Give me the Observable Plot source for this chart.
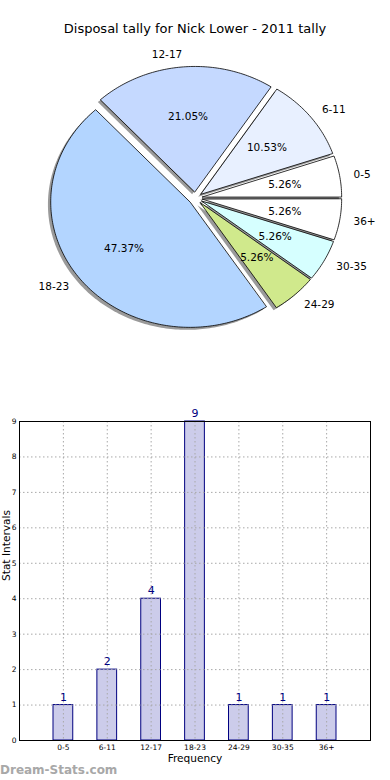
<!DOCTYPE html>
<html>
<head>
<meta charset="utf-8">
<script src="https://cdn.jsdelivr.net/npm/d3@7"></script>
<script src="https://cdn.jsdelivr.net/npm/@observablehq/plot@0.6"></script>
<style>
  html, body { margin: 0; padding: 0; background: #fff; }
  #wrap { position: relative; width: 390px; height: 780px; overflow: hidden; font-family: "DejaVu Sans", sans-serif; }
  #pie, #bar { position: absolute; left: 0; }
  #pie { top: 0; }
  #bar { top: 390px; }
  #title { position: absolute; top: 21px; left: 0; width: 390px; text-align: center; font-size: 13px; color: #000; }
  #mark { position: absolute; left: 0; top: 763px; font-size: 12px; font-weight: bold; color: #a8a8a8; font-family: "DejaVu Sans", sans-serif; }
  svg { overflow: visible; }
</style>
</head>
<body>
<div id="wrap">
  <div id="pie"></div>
  <div id="bar"></div>
  <div id="title">Disposal tally for Nick Lower - 2011 tally</div>
  <div id="mark">Dream-Stats.com</div>
</div>
<script>
const title = "Disposal tally for Nick Lower - 2011 tally";
const categories = ["0-5", "6-11", "12-17", "18-23", "24-29", "30-35", "36+"];
const counts = [1, 2, 4, 9, 1, 1, 1];
const sliceColors = ["#ffffff", "#e8f0ff", "#c5d9ff", "#b3d5ff", "#d0e98c", "#d6ffff", "#ffffff"];
const yTicks = [0, 1, 2, 3, 4, 5, 6, 7, 8, 9];
const xLabel = "Frequency";
const yLabel = "Stat Intervals";

const explode = 0.05;
const total = d3.sum(counts);
const ends = Array.from(d3.cumsum(counts));

// build wedge polygons in data units (radius 1), angles CCW from +x
const slices = categories.map((c, i) => {
  const a0 = (i === 0 ? 0 : ends[i - 1]) / total * 2 * Math.PI;
  const a1 = ends[i] / total * 2 * Math.PI;
  const am = (a0 + a1) / 2;
  const ox = explode * Math.cos(am), oy = explode * Math.sin(am);
  const n = Math.max(4, Math.ceil((a1 - a0) / (Math.PI / 180)));
  const pts = [{x: ox, y: oy}];
  for (let k = 0; k <= n; k++) {
    const a = a0 + (a1 - a0) * k / n;
    pts.push({x: ox + Math.cos(a), y: oy + Math.sin(a)});
  }
  return {cat: c, i, am, ox, oy, pts, color: sliceColors[i],
          pct: (counts[i] / total * 100).toFixed(2) + "%"};
});

const shadowMarks = slices.map(s =>
  Plot.line(s.pts, {x: d => d.x - 0.02, y: d => d.y - 0.02, curve: "linear-closed",
                    fill: "#9a9a9a", stroke: "none"}));
const wedgeMarks = slices.map(s =>
  Plot.line(s.pts, {x: "x", y: "y", curve: "linear-closed",
                    fill: s.color, stroke: "#000", strokeWidth: 0.8}));

const pie = Plot.plot({
  width: 390, height: 390, margin: 0,
  style: {fontFamily: "DejaVu Sans, sans-serif", background: "transparent"},
  x: {domain: [-1.4, 1.4], axis: null},
  y: {domain: [-1.5343, 1.5758], axis: null},
  marks: [
    ...shadowMarks,
    ...wedgeMarks,
    Plot.text(slices.filter(s => Math.cos(s.am) >= 0), {
      x: s => s.ox + 1.1 * Math.cos(s.am), y: s => s.oy + 1.1 * Math.sin(s.am),
      text: "cat", textAnchor: "start", fontSize: 10.5, fill: "#000"}),
    Plot.text(slices.filter(s => Math.cos(s.am) < 0), {
      x: s => s.ox + 1.1 * Math.cos(s.am), y: s => s.oy + 1.1 * Math.sin(s.am),
      text: "cat", textAnchor: "end", fontSize: 10.5, fill: "#000"}),
    Plot.text(slices, {
      x: s => s.ox + 0.6 * Math.cos(s.am), y: s => s.oy + 0.6 * Math.sin(s.am),
      text: "pct", fontSize: 10.5, fill: "#000"})
  ]
});
document.getElementById("pie").appendChild(pie);

const barData = categories.map((c, i) => ({cat: c, i, value: counts[i]}));
const xIdx = categories.map((c, i) => i);

const bar = Plot.plot({
  width: 390, height: 390,
  marginLeft: 19, marginRight: 20, marginTop: 31, marginBottom: 40,
  style: {fontFamily: "DejaVu Sans, sans-serif", background: "transparent"},
  x: {domain: [-1, 7], axis: null},
  y: {domain: [0, 9], axis: null},
  marks: [
    Plot.rect(barData, {x1: d => d.i - 0.225, x2: d => d.i + 0.225, y1: 0, y2: "value",
                        fill: "#ccccea", stroke: "#000080", strokeWidth: 1}),
    Plot.gridX(xIdx, {stroke: "#a8a8a8", strokeOpacity: 1, strokeDasharray: "1.5,2.5"}),
    Plot.gridY(yTicks, {stroke: "#a8a8a8", strokeOpacity: 1, strokeDasharray: "1.5,2.5"}),
    Plot.frame({stroke: "#000", strokeWidth: 1}),
    Plot.axisX(xIdx, {anchor: "bottom", tickSize: 0, tickPadding: 4, fontSize: 7.5,
                      tickFormat: i => categories[i], label: null, fill: "#000"}),
    Plot.axisY(yTicks, {anchor: "left", tickSize: 0, tickPadding: 3, fontSize: 7.5,
                        tickFormat: d => String(d), label: null, fill: "#000"}),
    Plot.text(barData, {x: "i", y: "value", text: d => String(d.value), dy: -8,
                        fontSize: 11, fill: "#000080"}),
    Plot.text([xLabel], {frameAnchor: "bottom", text: d => d, dy: 21, fontSize: 10.6, fill: "#000"}),
    Plot.text([yLabel], {frameAnchor: "left", text: d => d, rotate: -90, dx: -13, fontSize: 10.6, fill: "#000"})
  ]
});
document.getElementById("bar").appendChild(bar);
</script>
</body>
</html>
